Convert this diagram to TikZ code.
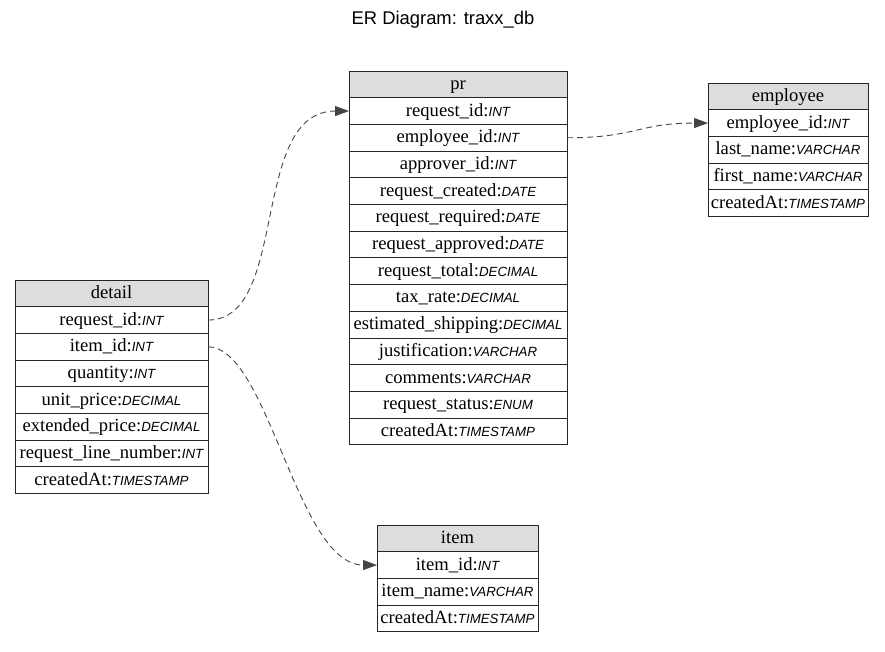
\documentclass[tikz,border=0pt]{standalone}
\usepackage{fontspec}
\setmainfont{Liberation Serif}
\newfontfamily\sansfont{Liberation Sans}
\usetikzlibrary{arrows.meta,positioning}
\definecolor{edgegray}{HTML}{444444}
\definecolor{headgray}{HTML}{DDDDDD}
\newcommand{\ty}[1]{{\sansfont\itshape\fontsize{13.3}{15}\selectfont #1}}
\tikzset{
  field/.style={draw=black!85, line width=0.9pt, outer sep=0pt, inner sep=0pt,
    minimum width=#1, minimum height=26.7pt, text height=13pt, text depth=3pt,
    font=\fontsize{18.6}{21}\selectfont},
  tblhead/.style={field=#1, fill=headgray},
  fk/.style={edgegray, line width=0.9pt, dash pattern=on 6pt off 4pt,
    -{Triangle[length=14pt,width=10pt]}}
}

\begin{document}
\begin{tikzpicture}[x=1pt,y=-1pt]
  \useasboundingbox (0,0) rectangle (885,652);
  \node (title) at (443,20) {\sansfont\fontsize{18.4}{21}\selectfont ER Diagram: traxx\_db};

  % pr
  \node[tblhead=218pt, anchor=north west] (pr) at (349,71) {pr};
  \node[field=218pt, below=0pt of pr] (pr-request-id) {request\_id:\ty{INT}};
  \node[field=218pt, below=0pt of pr-request-id] (pr-employee-id) {employee\_id:\ty{INT}};
  \node[field=218pt, below=0pt of pr-employee-id] (pr-approver-id) {approver\_id:\ty{INT}};
  \node[field=218pt, below=0pt of pr-approver-id] (pr-created) {request\_created:\ty{DATE}};
  \node[field=218pt, below=0pt of pr-created] (pr-required) {request\_required:\ty{DATE}};
  \node[field=218pt, below=0pt of pr-required] (pr-approved) {request\_approved:\ty{DATE}};
  \node[field=218pt, below=0pt of pr-approved] (pr-total) {request\_total:\ty{DECIMAL}};
  \node[field=218pt, below=0pt of pr-total] (pr-tax) {tax\_rate:\ty{DECIMAL}};
  \node[field=218pt, below=0pt of pr-tax] (pr-shipping) {estimated\_shipping:\ty{DECIMAL}};
  \node[field=218pt, below=0pt of pr-shipping] (pr-justification) {justification:\ty{VARCHAR}};
  \node[field=218pt, below=0pt of pr-justification] (pr-comments) {comments:\ty{VARCHAR}};
  \node[field=218pt, below=0pt of pr-comments] (pr-status) {request\_status:\ty{ENUM}};
  \node[field=218pt, below=0pt of pr-status] (pr-createdat) {createdAt:\ty{TIMESTAMP}};

  % employee
  \node[tblhead=160pt, anchor=north west] (employee) at (708,83) {employee};
  \node[field=160pt, below=0pt of employee] (emp-id) {employee\_id:\ty{INT}};
  \node[field=160pt, below=0pt of emp-id] (emp-last) {last\_name:\ty{VARCHAR}};
  \node[field=160pt, below=0pt of emp-last] (emp-first) {first\_name:\ty{VARCHAR}};
  \node[field=160pt, below=0pt of emp-first] (emp-createdat) {createdAt:\ty{TIMESTAMP}};

  % detail
  \node[tblhead=193pt, anchor=north west] (detail) at (15,280) {detail};
  \node[field=193pt, below=0pt of detail] (det-request-id) {request\_id:\ty{INT}};
  \node[field=193pt, below=0pt of det-request-id] (det-item-id) {item\_id:\ty{INT}};
  \node[field=193pt, below=0pt of det-item-id] (det-quantity) {quantity:\ty{INT}};
  \node[field=193pt, below=0pt of det-quantity] (det-unit) {unit\_price:\ty{DECIMAL}};
  \node[field=193pt, below=0pt of det-unit] (det-extended) {extended\_price:\ty{DECIMAL}};
  \node[field=193pt, below=0pt of det-extended] (det-line) {request\_line\_number:\ty{INT}};
  \node[field=193pt, below=0pt of det-line] (det-createdat) {createdAt:\ty{TIMESTAMP}};

  % item
  \node[tblhead=161pt, anchor=north west] (item) at (377,525) {item};
  \node[field=161pt, below=0pt of item] (item-id) {item\_id:\ty{INT}};
  \node[field=161pt, below=0pt of item-id] (item-name) {item\_name:\ty{VARCHAR}};
  \node[field=161pt, below=0pt of item-name] (item-createdat) {createdAt:\ty{TIMESTAMP}};

  % relations
  \draw[fk] (det-request-id.east) .. controls +(82,0) and +(-100,0) .. (pr-request-id.west);
  \draw[fk] (pr-employee-id.east) .. controls +(70,0) and +(-70,0) .. (emp-id.west);
  \draw[fk] (det-item-id.east) .. controls +(60,0) and +(-80,0) .. (item-id.west);
\end{tikzpicture}
\end{document}
